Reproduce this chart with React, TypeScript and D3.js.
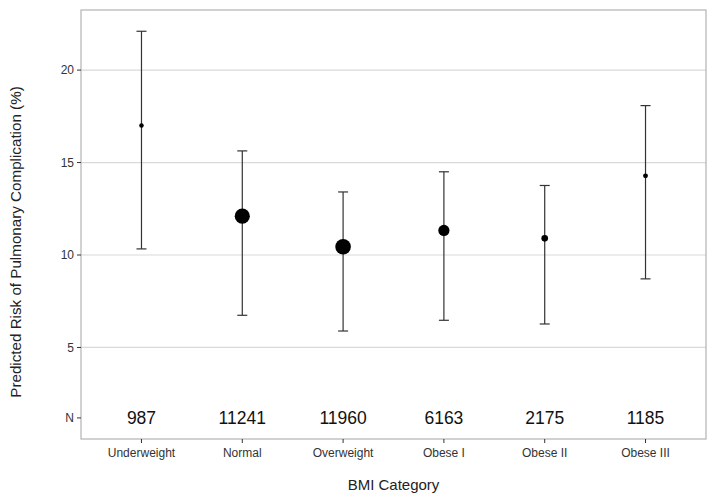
import React from "react";
import * as d3 from "d3";

const categories = ["Underweight", "Normal", "Overweight", "Obese I", "Obese II", "Obese III"];
const estimates = [17.0, 12.1, 10.45, 11.33, 10.9, 14.28];
const lowers = [10.33, 6.74, 5.89, 6.47, 6.27, 8.71];
const uppers = [22.1, 15.63, 13.41, 14.5, 13.76, 18.08];
const counts = [987, 11241, 11960, 6163, 2175, 1185];
const yTicks = [5, 10, 15, 20];
const nRowValue = 1.19;

const W = 718;
const H = 503;
const left = 81;
const right = 706;
const top = 10;
const bottom = 439;

export default function App() {
  const x = d3
    .scalePoint<string>()
    .domain(categories)
    .range([left, right])
    .padding(0.6);
  const y = d3.scaleLinear().domain([0.05, 23.25]).range([bottom, top]);
  const r = d3.scaleSqrt().domain([0, d3.max(counts) as number]).range([0, 7.8]);
  const font = "'Liberation Sans', Arial, Helvetica, sans-serif";
  const cap = 5;

  return (
    <svg
      width={W}
      height={H}
      style={{ position: "absolute", left: 0, top: 0, background: "#fff" }}
      fontFamily={font}
    >
      <rect x={0} y={0} width={W} height={H} fill="#fff" />
      {yTicks.map((t) => (
        <line key={t} x1={left} x2={right} y1={y(t)} y2={y(t)} stroke="#d9d9d9" strokeWidth={1.2} />
      ))}
      {categories.map((c, i) => {
        const cx = x(c) as number;
        return (
          <g key={c}>
            <line x1={cx} x2={cx} y1={y(lowers[i])} y2={y(uppers[i])} stroke="#333" strokeWidth={1.2} />
            <line x1={cx - cap} x2={cx + cap} y1={y(uppers[i])} y2={y(uppers[i])} stroke="#333" strokeWidth={1.2} />
            <line x1={cx - cap} x2={cx + cap} y1={y(lowers[i])} y2={y(lowers[i])} stroke="#333" strokeWidth={1.2} />
            <circle cx={cx} cy={y(estimates[i])} r={r(counts[i])} fill="#000" />
            <text x={cx} y={y(nRowValue) + 6.5} textAnchor="middle" fontSize={17.5} fill="#111">
              {counts[i]}
            </text>
          </g>
        );
      })}
      <rect x={left} y={top} width={right - left} height={bottom - top} fill="none" stroke="#b3b3b3" strokeWidth={1.2} />
      {yTicks.map((t) => (
        <g key={"yt" + t}>
          <line x1={left - 4} x2={left} y1={y(t)} y2={y(t)} stroke="#333" strokeWidth={1} />
          <text x={left - 7} y={y(t) + 4.2} textAnchor="end" fontSize={12} fill="#333">
            {t}
          </text>
        </g>
      ))}
      <line x1={left - 4} x2={left} y1={y(nRowValue)} y2={y(nRowValue)} stroke="#333" strokeWidth={1} />
      <text x={left - 7} y={y(nRowValue) + 4.2} textAnchor="end" fontSize={12} fill="#333">
        N
      </text>
      {categories.map((c) => (
        <g key={"xt" + c}>
          <line x1={x(c) as number} x2={x(c) as number} y1={bottom} y2={bottom + 4} stroke="#333" strokeWidth={1} />
          <text x={x(c) as number} y={bottom + 18} textAnchor="middle" fontSize={12} fill="#333">
            {c}
          </text>
        </g>
      ))}
      <text x={(left + right) / 2} y={490} textAnchor="middle" fontSize={15} fill="#222">
        BMI Category
      </text>
      <text
        transform={`translate(21, 242) rotate(-90)`}
        textAnchor="middle"
        fontSize={15.2}
        fill="#222"
      >
        Predicted Risk of Pulmonary Complication (%)
      </text>
    </svg>
  );
}
